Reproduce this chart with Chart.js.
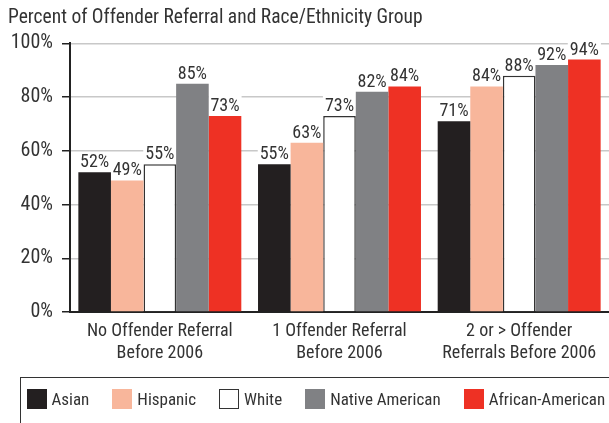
<!DOCTYPE html>
<html>
<head>
<meta charset="utf-8">
<script src="https://cdn.jsdelivr.net/npm/chart.js@4/dist/chart.umd.min.js"></script>
<style>
  html, body { margin: 0; padding: 0; background: #fff; }
  #wrap { position: relative; width: 609px; height: 423px; overflow: hidden; }
  #legend {
    position: absolute; left: 20px; top: 377px; width: 640px; height: 80px;
    border: 1.5px solid #333; box-sizing: border-box;
    display: flex; align-items: flex-start; padding: 10.5px 0 0 5.5px;
    font-family: 'Liberation Sans Narrow', 'Roboto Condensed', 'DejaVu Sans Condensed', sans-serif;
    font-size: 17px; color: #333;
  }
  #legend .item { display: flex; align-items: center; margin-right: 23px; white-space: nowrap; }
  #legend .box { width: 20px; height: 20px; box-sizing: border-box; margin-right: 5px; }
</style>
</head>
<body>
<div id="wrap">
  <canvas id="chart" width="609" height="423"></canvas>
  <div id="legend"></div>
</div>
<script>
// data
var groups = [
  ['No Offender Referral', 'Before 2006'],
  ['1 Offender Referral', 'Before 2006'],
  ['2 or > Offender', 'Referrals Before 2006']
];
var asian    = [52, 55, 71];
var hispanic = [49, 63, 84];
var white    = [55, 73, 88];
var nativeAm = [85, 82, 92];
var african  = [73, 84, 94];

var FONT = "'Liberation Sans Narrow', 'Roboto Condensed', 'DejaVu Sans Condensed', sans-serif";
var TXT = '#333333';

// white patch behind each value label, drawn before the bars so it only cuts gridlines
var labelPatch = {
  id: 'labelPatch',
  beforeDatasetsDraw: function(chart) {
    var ctx = chart.ctx;
    ctx.save();
    ctx.font = '18px ' + FONT;
    chart.data.datasets.forEach(function(ds, i) {
      chart.getDatasetMeta(i).data.forEach(function(bar, j) {
        var w = ctx.measureText(ds.data[j] + '%').width;
        ctx.fillStyle = '#fff';
        ctx.fillRect(bar.x - w / 2 - 2, bar.y - 20, w + 4, 16);
      });
    });
    ctx.restore();
  },
  afterDatasetsDraw: function(chart) {
    var ctx = chart.ctx;
    ctx.save();
    ctx.font = '18px ' + FONT;
    ctx.textAlign = 'center';
    ctx.textBaseline = 'alphabetic';
    ctx.fillStyle = TXT;
    chart.data.datasets.forEach(function(ds, i) {
      chart.getDatasetMeta(i).data.forEach(function(bar, j) {
        ctx.fillText(ds.data[j] + '%', bar.x, bar.y - 5);
      });
    });
    ctx.restore();
  }
};

// legend built from the datasets, in a bordered box under the chart
var htmlLegend = {
  id: 'htmlLegend',
  afterUpdate: function(chart) {
    var el = document.getElementById('legend');
    el.innerHTML = '';
    chart.data.datasets.forEach(function(ds) {
      var item = document.createElement('div');
      item.className = 'item';
      var box = document.createElement('span');
      box.className = 'box';
      box.style.background = ds.backgroundColor;
      if (ds.borderWidth) box.style.border = '1.5px solid ' + ds.borderColor;
      var txt = document.createElement('span');
      txt.textContent = ds.label;
      item.appendChild(box);
      item.appendChild(txt);
      el.appendChild(item);
    });
  }
};

new Chart(document.getElementById('chart').getContext('2d'), {
  type: 'bar',
  data: {
    labels: groups,
    datasets: [
      { label: 'Asian', data: asian, backgroundColor: '#231f20', borderWidth: 0 },
      { label: 'Hispanic', data: hispanic, backgroundColor: '#f8b69b', borderWidth: 0 },
      { label: 'White', data: white, backgroundColor: '#ffffff', borderColor: '#333', borderWidth: 1.5 },
      { label: 'Native American', data: nativeAm, backgroundColor: '#808184', borderWidth: 0 },
      { label: 'African-American', data: african, backgroundColor: '#ee3124', borderWidth: 0 }
    ]
  },
  options: {
    responsive: false,
    animation: false,
    layout: { padding: { left: 8, right: 0, top: 0, bottom: 45 } },
    datasets: {
      bar: { categoryPercentage: 0.907, barPercentage: 1.0 }
    },
    plugins: {
      tooltip: { enabled: false },
      legend: { display: false },
      title: {
        display: true,
        text: 'Percent of Offender Referral and Race/Ethnicity Group',
        align: 'start',
        color: TXT,
        font: { family: FONT, size: 19.5, weight: 'normal' },
        padding: { top: 6, bottom: 14 }
      }
    },
    scales: {
      x: {
        grid: { display: false, drawTicks: false },
        border: { display: true, color: '#222', width: 2 },
        ticks: { color: TXT, font: { family: FONT, size: 18 }, padding: 9, maxRotation: 0 },
        afterFit: function(scale) { scale.height = 66; }
      },
      y: {
        min: 0,
        max: 100,
        grid: { color: '#c8c8c8', lineWidth: 1.5, tickLength: 8, tickColor: '#222', tickWidth: 1.5 },
        border: { display: true, color: '#222', width: 2 },
        ticks: {
          stepSize: 10,
          color: TXT,
          font: { family: FONT, size: 20 },
          padding: 9,
          callback: function(v) { return v % 20 === 0 ? v + '%' : ''; }
        },
        afterFit: function(scale) { scale.width = 62; }
      }
    }
  },
  plugins: [labelPatch, htmlLegend]
});
</script>
</body>
</html>
